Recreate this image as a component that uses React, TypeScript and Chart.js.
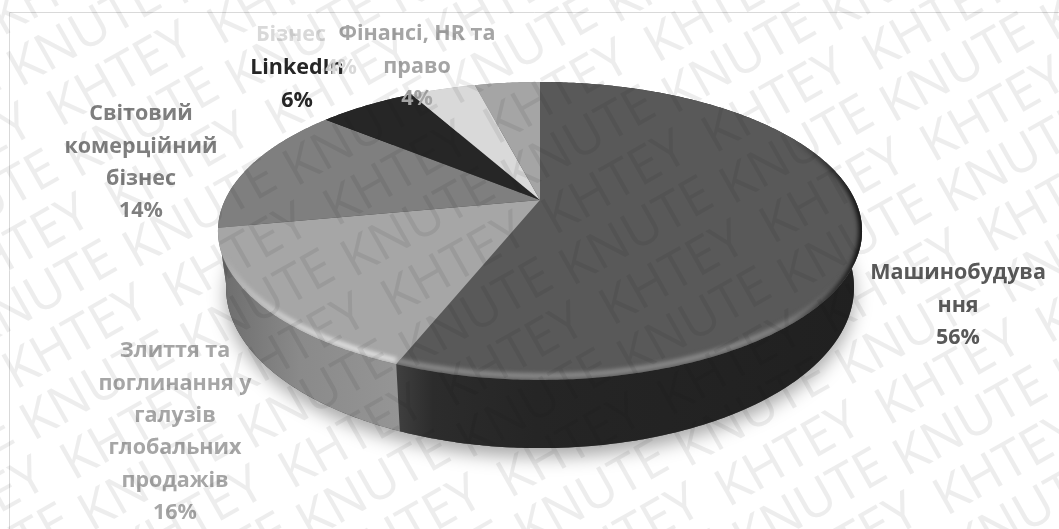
import React, { useEffect, useRef } from "react";
import { Chart, registerables } from "chart.js";

Chart.register(...registerables);

// Share of each field, percent
const categories = [
  "Машинобудування",
  "Злиття та поглинання у галузів глобальних продажів",
  "Світовий комерційний бізнес",
  "LinkedIn",
  "Бізнес",
  "Фінансі, HR та право",
];
const shares = [56, 16, 14, 6, 4, 4];
const topColors = ["#595959", "#A6A6A6", "#7F7F7F", "#262626", "#D9D9D9", "#A5A5A5"];
const rimColors = ["#8E8E8E", "#E4E4E4", "#9A9A9A", "#3A3A3A", "#EEEEEE", "#C0C0C0"];
const wallColors = ["#242424", "#8A8A8A", "#666666", "#151515", "#AAAAAA", "#808080"];

// Wrapped label text as it is set beside the pie
const labelLines = [
  ["Машинобудува", "ння", "56%"],
  ["Злиття та", "поглинання у", "галузів", "глобальних", "продажів", "16%"],
  ["Світовий", "комерційний", "бізнес", "14%"],
  ["LinkedIn", "6%"],
  ["Бізнес", "4%"],
  ["Фінансі, HR та", "право", "4%"],
];
// Centre x of each label block and y of its first line
const labelAnchors: [number, number][] = [
  [958, 273],
  [175, 351],
  [141, 114],
  [297, 68],
  [341, 35],
  [417, 34],
];
// Sideways nudge per line; the first line of the fifth label sits left of its value
const labelLineShift: number[][] = [[], [], [], [], [-50, 0], []];

const WIDTH = 1059;
const HEIGHT = 529;

// Perspective projection of the pie's flat disc on to the canvas
const CX = 540;
const CY = 200;
const RX = 315;
const RY = 142.5;
const TILT = 0.208;
const THICKNESS = 54;
const BASE_SHRINK = 0.975;

function project(angle: number, drop = 0): [number, number] {
  const u = Math.cos(angle);
  const v = Math.sin(angle);
  const w = 1 - TILT * v;
  const shrink = drop ? BASE_SHRINK : 1;
  return [CX + ((RX * u) / w) * shrink, CY + (RY * v) / w + drop / w];
}

function rimPath(start: number, end: number, drop = 0): [number, number][] {
  const n = Math.max(2, Math.ceil((end - start) / 0.01));
  const pts: [number, number][] = [];
  for (let i = 0; i <= n; i++) pts.push(project(start + ((end - start) * i) / n, drop));
  return pts;
}

function tracePoints(ctx: CanvasRenderingContext2D, pts: [number, number][], move = true) {
  pts.forEach(([x, y], i) => {
    if (i === 0 && move) ctx.moveTo(x, y);
    else ctx.lineTo(x, y);
  });
}

function wallFill(ctx: CanvasRenderingContext2D, index: number) {
  if (index === 0) {
    const g = ctx.createLinearGradient(396, 0, 860, 0);
    g.addColorStop(0, "#404040");
    g.addColorStop(0.08, "#2C2C2C");
    g.addColorStop(0.3, "#252525");
    g.addColorStop(1, "#202020");
    return g;
  }
  if (index === 1) {
    const g = ctx.createLinearGradient(218, 0, 400, 0);
    g.addColorStop(0, "#6C6C6C");
    g.addColorStop(0.45, "#8A8A8A");
    g.addColorStop(1, "#959595");
    return g;
  }
  return wallColors[index];
}

const tiltedPie = {
  id: "tiltedPie",
  beforeDraw(chart: Chart) {
    const { ctx } = chart;
    ctx.save();
    ctx.fillStyle = "#FFFFFF";
    ctx.fillRect(0, 0, WIDTH, HEIGHT);
    ctx.strokeStyle = "#D9D9D9";
    ctx.lineWidth = 1;
    ctx.beginPath();
    ctx.moveTo(WIDTH, 12.5);
    ctx.lineTo(9.5, 12.5);
    ctx.lineTo(9.5, HEIGHT);
    ctx.stroke();
    ctx.restore();
  },
  beforeDatasetsDraw(chart: Chart) {
    const { ctx } = chart;
    const arcs = chart.getDatasetMeta(0).data as any[];

    // Soft shadow cast by the base of the pie
    ctx.save();
    ctx.shadowColor = "rgba(0,0,0,0.34)";
    ctx.shadowBlur = 18;
    ctx.shadowOffsetY = 9;
    ctx.fillStyle = "#444444";
    ctx.beginPath();
    tracePoints(ctx, rimPath(0, Math.PI * 2, THICKNESS));
    ctx.closePath();
    ctx.fill();
    ctx.restore();

    // Side walls
    arcs.forEach((arc, i) => {
      const top = rimPath(arc.startAngle, arc.endAngle);
      const bottom = rimPath(arc.startAngle, arc.endAngle, THICKNESS).reverse();
      ctx.save();
      ctx.fillStyle = wallFill(ctx, i);
      ctx.beginPath();
      tracePoints(ctx, top);
      tracePoints(ctx, bottom, false);
      ctx.closePath();
      ctx.fill();
      ctx.restore();
    });

    // Top faces with a bevelled rim
    arcs.forEach((arc, i) => {
      const rim = rimPath(arc.startAngle, arc.endAngle);
      const outline = () => {
        ctx.beginPath();
        ctx.moveTo(CX, CY);
        tracePoints(ctx, rim, false);
        ctx.closePath();
      };
      ctx.save();
      ctx.fillStyle = topColors[i];
      outline();
      ctx.fill();
      ctx.clip();

      const fade = ctx.createLinearGradient(0, 255, 0, 345);
      fade.addColorStop(0, rimColors[i] + "00");
      fade.addColorStop(1, rimColors[i]);
      ctx.filter = "blur(2px)";
      ctx.strokeStyle = fade;
      ctx.lineWidth = 5;
      ctx.beginPath();
      tracePoints(
        ctx,
        rim.map(([x, y]) => [x, y - 4] as [number, number]),
      );
      ctx.stroke();

      // The far right edge falls away into shade
      if (i === 0) {
        const shade = ctx.createLinearGradient(790, 0, 860, 0);
        shade.addColorStop(0, "rgba(20,20,20,0)");
        shade.addColorStop(1, "rgba(20,20,20,1)");
        ctx.strokeStyle = shade;
        ctx.lineWidth = 7;
        ctx.beginPath();
        tracePoints(ctx, rim);
        ctx.stroke();
      }
      ctx.restore();
    });

    // Data labels, in series order so later ones sit over earlier ones
    ctx.save();
    ctx.font = '700 21.5px "Open Sans", sans-serif';
    ctx.textAlign = "center";
    ctx.textBaseline = "middle";
    labelLines.forEach((lines, i) => {
      const [x, y] = labelAnchors[i];
      ctx.fillStyle = topColors[i];
      lines.forEach((line, j) => ctx.fillText(line, x + (labelLineShift[i][j] ?? 0), y + j * 32.4));
    });
    ctx.restore();

    return false;
  },
  afterDraw(chart: Chart) {
    // Repeated diagonal watermark over the whole sheet: words sit on a
    // 27 degree lattice, each one tilted a little more steeply
    const { ctx } = chart;
    const lattice = (-27 * Math.PI) / 180;
    const tilt = (-29.5 * Math.PI) / 180;
    ctx.save();
    ctx.globalCompositeOperation = "multiply";
    ctx.font = '400 52px "Open Sans", sans-serif';
    ctx.textBaseline = "alphabetic";
    ctx.fillStyle = "#EDEDED";
    for (let row = -14; row <= 14; row++) {
      const odd = Math.abs(row) % 2 === 1;
      const base = row * 5.2 + (odd ? -12.6 : 0);
      for (let col = -9; col <= 5; col++) {
        const along = base + col * 180;
        const across = row * 53.5;
        ctx.save();
        ctx.translate(
          933 + along * Math.cos(lattice) - across * Math.sin(lattice),
          163 + along * Math.sin(lattice) + across * Math.cos(lattice),
        );
        ctx.rotate(tilt);
        ctx.fillText(odd ? "KNUTE" : "KHTEY", 0, 0);
        ctx.restore();
      }
    }
    ctx.restore();
  },
};

export default function App() {
  const canvasRef = useRef<HTMLCanvasElement>(null);

  useEffect(() => {
    const chart = new Chart(canvasRef.current!, {
      type: "pie",
      data: {
        labels: categories,
        datasets: [{ data: shares, backgroundColor: topColors, borderWidth: 0 }],
      },
      options: {
        responsive: false,
        animation: false,
        plugins: { legend: { display: false }, tooltip: { enabled: false } },
      },
      plugins: [tiltedPie as any],
    });
    return () => chart.destroy();
  }, []);

  return (
    <canvas
      ref={canvasRef}
      width={WIDTH}
      height={HEIGHT}
      style={{ position: "fixed", left: 0, top: 0, display: "block" }}
    />
  );
}
